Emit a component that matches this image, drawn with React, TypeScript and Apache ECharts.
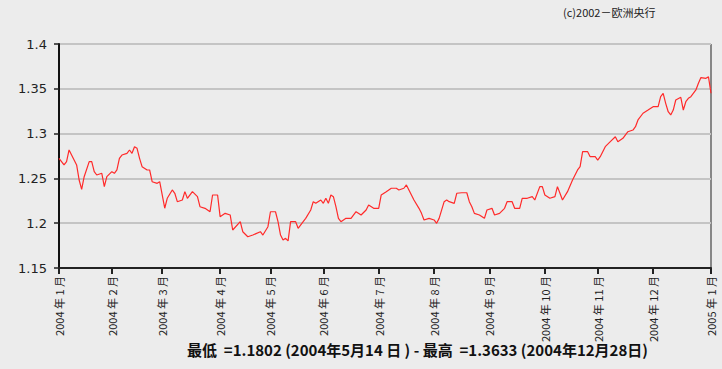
import React, { useEffect, useRef } from "react";
import * as echarts from "echarts";

// ECB reference rate EUR/USD, 2004 — trading-day index and rate
const HOLIDAYS = ["2004-01-01", "2004-04-09", "2004-04-12"];
const START = "2004-01-01";
const END = "2005-01-03";

const dayIndex = [
  0, 2, 3, 4, 6, 7, 8, 9, 10, 12, 13, 14, 15, 17, 18, 19, 21, 22, 23, 24, 25, 27, 28, 29, 30, 31, 32, 33, 35, 36, 37, 39, 40, 41,
  42, 43, 45, 46, 47, 49, 50, 51, 53, 55, 56, 58, 60, 61, 63, 64, 66, 68, 69, 72, 73, 75, 77, 80, 81, 83, 84, 86, 87, 88,
  89, 90, 91, 92, 94, 95, 97, 98, 100, 101, 102, 104, 105, 106, 107, 108, 109, 110, 111, 112, 114, 116, 118, 120, 122, 123, 125, 127, 128, 130,
  132, 134, 135, 137, 138, 139, 141, 143, 144, 145, 147, 149, 150, 151, 153, 154, 155, 157, 158, 160, 162, 163, 164, 165, 167, 169, 170, 172, 173, 175, 177,
  178, 180, 181, 183, 184, 186, 188, 189, 191, 192, 193, 195, 197, 198, 199, 200, 202, 204, 206, 207, 208, 210, 211, 213, 214, 215,
  217, 219, 221, 222, 224, 226, 228, 229, 230, 232, 234, 236, 238, 239, 240, 241, 242, 243, 244, 245, 247, 248, 249, 250, 251, 253, 254, 255, 257, 258, 259,
];

const eurUsd = [
  1.2724, 1.265, 1.2687, 1.2817, 1.2705, 1.265, 1.2482, 1.2378, 1.2519, 1.2687, 1.2687, 1.2575, 1.2538, 1.2557, 1.2408, 1.2519, 1.2575, 1.2557, 1.2594, 1.2724, 1.2761, 1.278, 1.2817, 1.278, 1.2854, 1.2836, 1.2724, 1.2631, 1.2594, 1.2594, 1.2463, 1.2445, 1.2463, 1.2315,
  1.2167, 1.2278, 1.2371, 1.2334, 1.224, 1.2259, 1.2352, 1.2278, 1.2352, 1.2296, 1.2184, 1.2166, 1.2128, 1.2315, 1.2315, 1.2073, 1.211, 1.2092, 1.1924, 1.2017, 1.1905, 1.1849, 1.1868, 1.1905, 1.1868, 1.1961, 1.2128, 1.2128, 1.2017, 1.1868,
  1.1812, 1.1831, 1.1802, 1.2017, 1.2017, 1.1943, 1.2017, 1.2054, 1.2147, 1.224, 1.2222, 1.2259, 1.2222, 1.2278, 1.2222, 1.2315, 1.2296, 1.2184, 1.2054, 1.2017, 1.2054, 1.2054, 1.2128, 1.2092, 1.2147, 1.2203, 1.2166, 1.2166, 1.2315, 1.2352,
  1.239, 1.239, 1.2371, 1.239, 1.2427, 1.2371, 1.2259, 1.2166, 1.211, 1.2036, 1.2054, 1.2036, 1.1999, 1.2054, 1.224, 1.2259, 1.224, 1.2222, 1.2334, 1.234, 1.234, 1.224, 1.2184, 1.211, 1.2092, 1.2054, 1.2147, 1.2166, 1.2092, 1.211, 1.2166,
  1.224, 1.224, 1.2166, 1.2166, 1.2278, 1.2278, 1.2296, 1.2259, 1.2408, 1.2408, 1.2315, 1.2278, 1.2296, 1.2408, 1.2334, 1.2259, 1.2352, 1.2482, 1.2594, 1.2631, 1.2798, 1.2798, 1.2742, 1.2742, 1.2705, 1.2742,
  1.2854, 1.291, 1.2965, 1.291, 1.2948, 1.3021, 1.304, 1.3077, 1.3152, 1.3227, 1.3263, 1.33, 1.33, 1.3412, 1.345, 1.3338, 1.3244, 1.3208, 1.3263, 1.3375, 1.3405, 1.3263, 1.3356, 1.3394, 1.3412, 1.3487, 1.3561, 1.3625, 1.3617, 1.3633, 1.345,
];

const yTicks = [1.15, 1.2, 1.25, 1.3, 1.35, 1.4];
const TITLE = "(c)2002－欧洲央行";
const FOOTER = "最低  =1.1802 (2004年5月14 日 ) - 最高  =1.3633 (2004年12月28日)";

function buildTradingDays(): string[] {
  const out: string[] = [];
  const d = new Date(START + "T00:00:00Z");
  const end = new Date(END + "T00:00:00Z");
  while (d <= end) {
    const s = d.toISOString().slice(0, 10);
    const wd = d.getUTCDay();
    if (wd !== 0 && wd !== 6 && HOLIDAYS.indexOf(s) < 0) out.push(s);
    d.setUTCDate(d.getUTCDate() + 1);
  }
  return out;
}

export default function App() {
  const ref = useRef<HTMLDivElement>(null);
  useEffect(() => {
    document.body.style.margin = "0";
    const days = buildTradingDays();
    const monthStart = new Set<number>();
    days.forEach((s, i) => {
      if (i === 0 || s.slice(0, 7) !== days[i - 1].slice(0, 7)) monthStart.add(i);
    });
    const data = dayIndex.map((x, i) => [x, eurUsd[i]]);
    const chart = echarts.init(ref.current!, null, { renderer: "svg" });
    chart.setOption({
      animation: false,
      backgroundColor: "#ececec",
      grid: {
        left: 59,
        right: 11,
        top: 44,
        bottom: 101,
        show: true,
        borderColor: "#222",
        borderWidth: 1,
        backgroundColor: "transparent",
      },
      xAxis: {
        type: "category",
        data: days,
        boundaryGap: false,
        axisLine: { lineStyle: { color: "#222", width: 2 } },
        axisTick: {
          length: 6,
          interval: (i: number) => monthStart.has(i),
          lineStyle: { color: "#222", width: 2 },
        },
        axisLabel: {
          interval: (i: number) => monthStart.has(i),
          rotate: 90,
          margin: 8,
          fontSize: 11,
          color: "#222",
          fontFamily: "Noto Sans CJK SC",
          formatter: (v: string) => `${v.slice(0, 4)} 年 ${+v.slice(5, 7)} 月`,
        },
        splitLine: { show: false },
      },
      yAxis: {
        type: "value",
        min: yTicks[0],
        max: yTicks[yTicks.length - 1],
        interval: 0.05,
        axisLine: { show: true, lineStyle: { color: "#111", width: 2 } },
        axisTick: { show: true, length: 5, lineStyle: { color: "#222", width: 1.5 } },
        axisLabel: {
          margin: 12,
          fontSize: 13,
          color: "#222",
          fontFamily: "DejaVu Sans",
          formatter: (v: number) => String(+v.toFixed(2)),
        },
        splitLine: { lineStyle: { color: "#c4c4c4", width: 2 } },
      },
      series: [
        {
          type: "line",
          data,
          showSymbol: false,
          lineStyle: { color: "#ff2a2a", width: 1.2 },
        },
      ],
      graphic: [
        {
          type: "text",
          left: 563,
          top: 6,
          style: { text: TITLE, fontSize: 11, fill: "#222", fontFamily: "Noto Sans CJK SC" },
        },
        {
          type: "text",
          left: 187,
          top: 342,
          style: { text: FOOTER, fontSize: 15, fontWeight: "bold", fill: "#111", fontFamily: "Noto Sans CJK SC" },
        },
      ],
    });
    return () => chart.dispose();
  }, []);
  return <div ref={ref} style={{ width: 722, height: 369 }} />;
}
